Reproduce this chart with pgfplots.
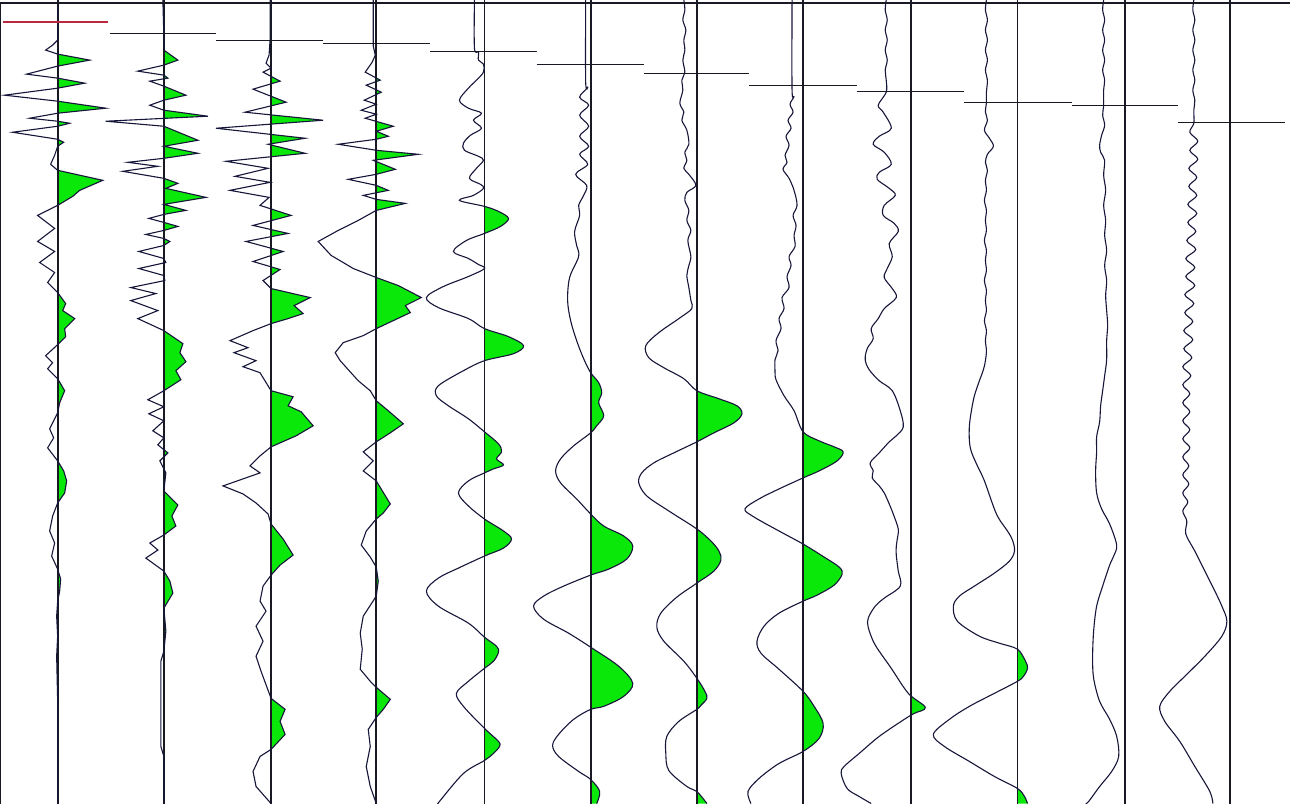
\documentclass[border=0pt]{standalone}
\usepackage{pgfplots}
\usepackage{pgfplotstable}
\pgfplotsset{compat=1.18}
\definecolor{grn}{RGB}{10,232,10}
\definecolor{wig}{RGB}{22,22,58}
\definecolor{base}{RGB}{25,25,35}
\definecolor{mred}{RGB}{185,40,60}

\pgfplotstableread[row sep=\\]{x y\\
60 0\\ 60 40\\ 55 45\\ 48 50\\ 60 54\\ 92 60\\ 60 66\\ 29 74\\ 60 78\\ 87 83\\ 60 88\\ 7 95\\ 60 101\\ 108 108\\ 60 113\\ 32 118\\ 60 121\\ 72 123\\ 60 126\\ 15 132\\ 60 139\\ 66 142\\ 60 146\\ 57 155\\ 53 164\\ 60 170\\ 105 180\\ 82 190\\ 75 196\\ 60 205\\ 40 215\\ 57 228\\ 40 241\\ 57 251\\ 42 262\\ 57 272\\ 50 282\\ 60 292\\ 68 303\\ 65 310\\ 77 318\\ 67 328\\ 68 336\\ 60 344\\ 48 355\\ 55 362\\ 50 368\\ 60 378\\ 67 390\\ 62 402\\ 60 412\\ 52 428\\ 56 437\\ 50 447\\ 60 460\\ 66 470\\ 69 480\\ 67 492\\ 60 502\\ 55 515\\ 52 530\\ 57 542\\ 54 555\\ 60 568\\ 63 578\\ 62 590\\ 60 600\\ 59 615\\ 60 635\\ 59 655\\ 60 700\\ 60 802\\
}\tA
\pgfplotstableread[row sep=\\]{x y\\
165 0\\ 166 36\\ 166 50\\ 180 60\\ 166 65\\ 140 71\\ 166 75\\ 170 78\\ 152 81\\ 166 86\\ 188 95\\ 166 100\\ 152 105\\ 166 110\\ 210 116\\ 108 121\\ 166 126\\ 200 140\\ 166 146\\ 200 153\\ 166 158\\ 130 162\\ 160 166\\ 125 171\\ 166 178\\ 180 183\\ 168 188\\ 208 197\\ 166 204\\ 188 210\\ 166 214\\ 151 218\\ 166 222\\ 180 226\\ 166 230\\ 148 234\\ 166 238\\ 172 241\\ 166 245\\ 141 251\\ 166 258\\ 168 262\\ 141 268\\ 166 275\\ 167 280\\ 133 287\\ 158 293\\ 133 300\\ 160 310\\ 140 318\\ 166 330\\ 185 343\\ 182 352\\ 188 361\\ 178 370\\ 183 379\\ 166 390\\ 150 399\\ 166 406\\ 151 413\\ 166 420\\ 155 430\\ 166 437\\ 160 444\\ 170 452\\ 162 460\\ 168 472\\ 166 490\\ 180 504\\ 174 515\\ 178 525\\ 166 534\\ 152 542\\ 160 549\\ 148 557\\ 166 570\\ 172 580\\ 175 592\\ 166 607\\ 168 630\\ 166 650\\ 163 660\\ 163 745\\ 166 755\\ 166 802\\
}\tB
\pgfplotstableread[row sep=\\]{x y\\
272 0\\ 272 40\\ 271 55\\ 268 63\\ 273 68\\ 265 72\\ 282 81\\ 255 89\\ 288 102\\ 247 112\\ 325 120\\ 218 128\\ 307 138\\ 270 144\\ 307 153\\ 228 161\\ 270 168\\ 237 176\\ 272 182\\ 232 190\\ 271 197\\ 262 205\\ 293 215\\ 255 225\\ 290 233\\ 248 241\\ 285 251\\ 255 261\\ 282 269\\ 265 280\\ 273 288\\ 312 297\\ 296 305\\ 305 313\\ 290 318\\ 273 323\\ 255 330\\ 232 340\\ 250 347\\ 236 352\\ 258 360\\ 245 366\\ 262 372\\ 273 390\\ 295 396\\ 290 405\\ 303 411\\ 315 425\\ 298 435\\ 273 446\\ 262 455\\ 252 465\\ 262 472\\ 225 485\\ 245 493\\ 258 502\\ 270 513\\ 273 523\\ 285 538\\ 295 554\\ 282 564\\ 273 574\\ 265 585\\ 262 600\\ 268 610\\ 258 625\\ 265 640\\ 258 655\\ 263 670\\ 273 697\\ 287 708\\ 282 720\\ 287 733\\ 273 748\\ 262 755\\ 255 770\\ 258 785\\ 273 802\\
}\tC
\pgfplotstableread[row sep=\\]{x y\\
375 0\\ 375 46\\ 377 55\\ 374 62\\ 367 72\\ 382 80\\ 368 85\\ 383 92\\ 366 100\\ 378 104\\ 363 110\\ 378 114\\ 367 118\\ 395 126\\ 378 131\\ 390 136\\ 378 139\\ 340 144\\ 378 150\\ 420 154\\ 390 158\\ 375 160\\ 397 169\\ 378 174\\ 350 179\\ 378 185\\ 390 190\\ 365 195\\ 378 199\\ 407 203\\ 378 210\\ 360 220\\ 340 230\\ 320 241\\ 333 255\\ 345 262\\ 355 268\\ 378 277\\ 400 285\\ 423 297\\ 407 305\\ 412 312\\ 395 320\\ 378 328\\ 365 335\\ 345 342\\ 337 352\\ 342 360\\ 360 380\\ 372 390\\ 378 400\\ 390 410\\ 405 423\\ 392 432\\ 378 441\\ 365 451\\ 375 460\\ 365 470\\ 378 480\\ 392 503\\ 385 512\\ 378 518\\ 368 530\\ 363 544\\ 372 556\\ 378 566\\ 380 580\\ 378 595\\ 365 615\\ 362 632\\ 364 648\\ 362 668\\ 372 680\\ 378 686\\ 392 698\\ 385 708\\ 378 716\\ 370 728\\ 372 745\\ 368 765\\ 372 785\\ 378 802\\
}\tD
\pgfplotstableread[row sep=\\]{x y\\
476 0\\ 476 48\\ 480 52\\ 480 60\\ 485 64\\ 485 72\\ 478 80\\ 470 88\\ 461 100\\ 470 108\\ 483 113\\ 475 120\\ 483 128\\ 472 135\\ 465 143\\ 466 150\\ 480 156\\ 485 160\\ 478 168\\ 471 178\\ 482 184\\ 485 188\\ 475 195\\ 461 200\\ 486 206\\ 500 211\\ 510 218\\ 502 226\\ 486 233\\ 468 240\\ 455 251\\ 470 258\\ 480 264\\ 486 268\\ 470 276\\ 445 286\\ 428 297\\ 440 307\\ 470 318\\ 486 328\\ 510 336\\ 525 345\\ 515 353\\ 486 360\\ 465 370\\ 440 385\\ 438 395\\ 450 405\\ 470 418\\ 486 431\\ 500 443\\ 503 451\\ 498 458\\ 505 464\\ 495 468\\ 486 472\\ 470 480\\ 460 492\\ 470 505\\ 486 518\\ 505 530\\ 513 538\\ 505 547\\ 486 555\\ 460 567\\ 440 577\\ 428 590\\ 440 605\\ 470 622\\ 486 636\\ 498 645\\ 500 651\\ 495 660\\ 486 667\\ 470 680\\ 458 692\\ 465 705\\ 486 727\\ 500 740\\ 501 745\\ 495 752\\ 486 759\\ 465 772\\ 441 800\\ 440 802\\
}\tE
\pgfplotstableread[row sep=\\]{x y\\
587 0\\ 587 82\\ 589 87\\ 581 97\\ 590 105\\ 581 115\\ 590 126\\ 581 136\\ 590 146\\ 581 154\\ 589 164\\ 577 174\\ 588 185\\ 585 195\\ 580 205\\ 581 215\\ 576 231\\ 578 245\\ 580 256\\ 571 277\\ 569 300\\ 572 320\\ 578 340\\ 585 358\\ 592 372\\ 600 382\\ 603 392\\ 600 402\\ 605 415\\ 598 425\\ 592 432\\ 575 445\\ 562 458\\ 557 470\\ 562 482\\ 578 498\\ 592 513\\ 605 525\\ 625 535\\ 634 545\\ 628 558\\ 610 568\\ 592 574\\ 565 585\\ 545 595\\ 535 605\\ 545 618\\ 570 632\\ 592 646\\ 620 665\\ 634 682\\ 625 695\\ 605 705\\ 592 708\\ 575 718\\ 560 733\\ 554 744\\ 560 755\\ 580 770\\ 592 778\\ 601 790\\ 598 802\\
}\tF
\pgfplotstableread[row sep=\\]{x y\\
685 0\\ 686 10\\ 684 20\\ 687 30\\ 685 40\\ 686 50\\ 684 60\\ 686 72\\ 683 80\\ 684 90\\ 681 103\\ 685 112\\ 683 120\\ 688 130\\ 690 144\\ 686 152\\ 688 160\\ 685 168\\ 690 174\\ 697 185\\ 688 192\\ 686 200\\ 690 210\\ 688 220\\ 692 230\\ 689 240\\ 692 256\\ 690 265\\ 688 275\\ 690 287\\ 692 300\\ 693 308\\ 680 318\\ 660 332\\ 647 345\\ 650 357\\ 665 367\\ 685 378\\ 698 390\\ 720 398\\ 738 405\\ 743 413\\ 735 422\\ 715 432\\ 698 441\\ 675 452\\ 655 462\\ 643 472\\ 640 482\\ 648 495\\ 670 510\\ 698 528\\ 712 540\\ 720 550\\ 722 559\\ 715 570\\ 698 582\\ 678 596\\ 662 612\\ 658 626\\ 665 640\\ 685 660\\ 698 677\\ 706 690\\ 708 697\\ 702 704\\ 698 708\\ 680 720\\ 668 735\\ 667 752\\ 670 769\\ 688 785\\ 698 790\\ 708 802\\
}\tG
\pgfplotstableread[row sep=\\]{x y\\
793 0\\ 793 90\\ 795 96\\ 791 104\\ 794 112\\ 789 120\\ 792 128\\ 787 136\\ 790 145\\ 786 155\\ 788 162\\ 784 169\\ 790 178\\ 795 190\\ 798 205\\ 794 215\\ 797 225\\ 795 235\\ 796 246\\ 790 256\\ 792 265\\ 788 276\\ 790 287\\ 783 297\\ 785 308\\ 780 318\\ 782 328\\ 777 340\\ 779 350\\ 776 359\\ 776 370\\ 777 379\\ 785 395\\ 795 410\\ 804 431\\ 820 440\\ 835 446\\ 844 451\\ 838 460\\ 820 470\\ 804 477\\ 780 488\\ 760 498\\ 746 508\\ 755 516\\ 780 530\\ 804 543\\ 825 556\\ 840 566\\ 843 573\\ 835 584\\ 818 594\\ 804 600\\ 780 612\\ 765 625\\ 758 640\\ 762 652\\ 780 668\\ 804 690\\ 815 705\\ 824 722\\ 820 737\\ 804 750\\ 780 762\\ 760 777\\ 749 790\\ 752 802\\
}\tH
\pgfplotstableread[row sep=\\]{x y\\
887 0\\ 886 10\\ 888 20\\ 886 30\\ 888 40\\ 886 50\\ 888 60\\ 886 70\\ 887 80\\ 887 92\\ 879 105\\ 884 112\\ 892 128\\ 880 136\\ 874 144\\ 885 152\\ 892 164\\ 880 172\\ 878 179\\ 890 188\\ 896 195\\ 885 205\\ 884 215\\ 895 223\\ 899 231\\ 890 243\\ 893 256\\ 888 268\\ 885 277\\ 893 288\\ 897 297\\ 885 308\\ 879 318\\ 872 328\\ 874 338\\ 868 348\\ 866 359\\ 870 369\\ 880 380\\ 893 390\\ 901 410\\ 904 426\\ 897 435\\ 890 441\\ 880 452\\ 871 462\\ 874 470\\ 873 477\\ 880 485\\ 885 492\\ 890 503\\ 894 513\\ 899 528\\ 898 538\\ 897 546\\ 897 554\\ 899 570\\ 901 585\\ 885 597\\ 876 605\\ 869 617\\ 869 626\\ 874 640\\ 880 650\\ 892 667\\ 909 692\\ 926 706\\ 915 712\\ 905 718\\ 880 735\\ 860 752\\ 845 765\\ 842 772\\ 848 787\\ 860 795\\ 872 802\\
}\tI
\pgfplotstableread[row sep=\\]{x y\\
987 0\\ 986 10\\ 988 20\\ 986 30\\ 988 40\\ 986 50\\ 988 60\\ 986 70\\ 988 80\\ 987 92\\ 987 102\\ 986 112\\ 988 120\\ 985 130\\ 990 138\\ 994 146\\ 988 154\\ 986 162\\ 988 170\\ 986 180\\ 987 190\\ 985 200\\ 987 210\\ 986 220\\ 987 230\\ 985 240\\ 987 250\\ 986 260\\ 987 270\\ 985 280\\ 987 290\\ 986 300\\ 987 310\\ 985 320\\ 987 330\\ 986 340\\ 987 350\\ 986 360\\ 984 369\\ 980 380\\ 975 395\\ 972 410\\ 970 425\\ 970 440\\ 972 451\\ 978 465\\ 985 480\\ 997 513\\ 1008 530\\ 1013 539\\ 1015 550\\ 1010 560\\ 995 572\\ 975 585\\ 960 595\\ 954 605\\ 958 620\\ 980 635\\ 1000 642\\ 1018 648\\ 1026 660\\ 1028 667\\ 1024 675\\ 1018 680\\ 995 692\\ 970 705\\ 950 718\\ 934 733\\ 945 745\\ 970 760\\ 995 775\\ 1018 787\\ 1025 795\\ 1028 802\\
}\tJ
\pgfplotstableread[row sep=\\]{x y\\
1104 0\\ 1103 10\\ 1105 20\\ 1103 30\\ 1105 40\\ 1103 50\\ 1105 60\\ 1103 70\\ 1105 80\\ 1104 90\\ 1104 105\\ 1103 115\\ 1105 125\\ 1102 135\\ 1100 145\\ 1101 152\\ 1105 160\\ 1104 175\\ 1106 190\\ 1104 205\\ 1106 220\\ 1105 235\\ 1107 250\\ 1105 265\\ 1107 280\\ 1106 295\\ 1107 310\\ 1108 325\\ 1107 340\\ 1107 359\\ 1105 375\\ 1103 390\\ 1101 405\\ 1100 421\\ 1097 436\\ 1097 451\\ 1096 470\\ 1097 492\\ 1102 508\\ 1110 523\\ 1117 544\\ 1114 555\\ 1110 564\\ 1103 585\\ 1097 605\\ 1094 630\\ 1093 656\\ 1094 677\\ 1100 700\\ 1110 718\\ 1117 735\\ 1119 755\\ 1112 770\\ 1100 785\\ 1089 800\\ 1086 802\\
}\tK
\pgfplotstableread[row sep=\\]{x y\\
1194 0\\ 1193 10\\ 1195 20\\ 1193 30\\ 1195 40\\ 1193 50\\ 1195 60\\ 1193 70\\ 1195 80\\ 1193 90\\ 1195 100\\ 1194 110\\ 1194 123\\ 1190 132\\ 1198 141\\ 1190 150\\ 1198 159\\ 1189 168\\ 1197 177\\ 1189 186\\ 1197 195\\ 1188 204\\ 1197 213\\ 1188 222\\ 1196 231\\ 1187 240\\ 1196 249\\ 1186 258\\ 1195 267\\ 1186 276\\ 1195 285\\ 1185 294\\ 1194 303\\ 1185 312\\ 1193 321\\ 1184 330\\ 1193 339\\ 1184 348\\ 1192 357\\ 1183 366\\ 1191 375\\ 1183 384\\ 1190 393\\ 1183 402\\ 1190 411\\ 1183 420\\ 1190 429\\ 1183 438\\ 1190 447\\ 1183 456\\ 1189 465\\ 1183 474\\ 1189 483\\ 1183 492\\ 1188 501\\ 1183 510\\ 1187 520\\ 1186 533\\ 1195 550\\ 1205 570\\ 1215 590\\ 1222 605\\ 1227 620\\ 1222 635\\ 1205 655\\ 1185 675\\ 1170 690\\ 1160 705\\ 1165 720\\ 1180 740\\ 1195 765\\ 1210 790\\ 1213 802\\
}\tL

% #1 table, #2 baseline, #3 clip right edge, #4 extra plot options
\newcommand{\fillt}[4]{%
  \begin{scope}
    \clip (axis cs:#2,-5) rectangle (axis cs:#3,810);
    \addplot[fill=grn, draw=none, #4] table {#1} -- (axis cs:#2,802) -- (axis cs:#2,0) -- cycle;
  \end{scope}}
\newcommand{\base}[1]{\addplot[base, line width=1.7pt] coordinates {(#1,0) (#1,802)};}

\begin{document}
\begin{tikzpicture}
\begin{axis}[
  width=1294pt, height=802pt, scale only axis,
  xmin=0, xmax=1294, ymin=0, ymax=802, y dir=reverse,
  hide axis, clip=true,
  sm/.style={smooth, tension=0.55}]
\fillt{\tA}{60}{200}{}
\fillt{\tB}{166}{300}{}
\fillt{\tC}{273}{400}{}
\fillt{\tD}{378}{500}{}
\fillt{\tE}{486}{600}{sm}
\fillt{\tF}{592}{700}{sm}
\fillt{\tG}{698}{800}{sm}
\fillt{\tH}{804}{900}{sm}
\fillt{\tI}{912}{1000}{sm}
\fillt{\tJ}{1018}{1100}{sm}
\fillt{\tK}{1125}{1200}{sm}
\fillt{\tL}{1230}{1294}{sm}
\base{60}\base{166}\base{273}\base{378}\base{486}\base{592}
\base{698}\base{804}\base{912}\base{1018}\base{1125}\base{1230}
\addplot[wig, line width=1.1pt] table {\tA};
\addplot[wig, line width=1.1pt] table {\tB};
\addplot[wig, line width=1.1pt] table {\tC};
\addplot[wig, line width=1.1pt] table {\tD};
\addplot[wig, line width=1.1pt, sm] table {\tE};
\addplot[wig, line width=1.1pt, sm] table {\tF};
\addplot[wig, line width=1.1pt, sm] table {\tG};
\addplot[wig, line width=1.1pt, sm] table {\tH};
\addplot[wig, line width=1.1pt, sm] table {\tI};
\addplot[wig, line width=1.1pt, sm] table {\tJ};
\addplot[wig, line width=1.1pt, sm] table {\tK};
\addplot[wig, line width=1.1pt, sm] table {\tL};
\addplot[mred, line width=1.1pt] coordinates {(5,22) (110,22)};
\addplot[base, line width=1.1pt] coordinates {(112,33) (218,33)};
\addplot[base, line width=1.1pt] coordinates {(218,40) (325,40)};
\addplot[base, line width=1.1pt] coordinates {(325,43) (432,43)};
\addplot[base, line width=1.1pt] coordinates {(432,51) (538,51)};
\addplot[base, line width=1.1pt] coordinates {(538,64) (645,64)};
\addplot[base, line width=1.1pt] coordinates {(645,73) (750,73)};
\addplot[base, line width=1.1pt] coordinates {(750,85) (858,85)};
\addplot[base, line width=1.1pt] coordinates {(858,91) (965,91)};
\addplot[base, line width=1.1pt] coordinates {(965,102) (1072,102)};
\addplot[base, line width=1.1pt] coordinates {(1072,105) (1178,105)};
\addplot[base, line width=1.1pt] coordinates {(1178,122) (1285,122)};
\addplot[base, line width=1.1pt] coordinates {(3,802) (3,3) (1290,3)};
\end{axis}
\end{tikzpicture}
\end{document}
